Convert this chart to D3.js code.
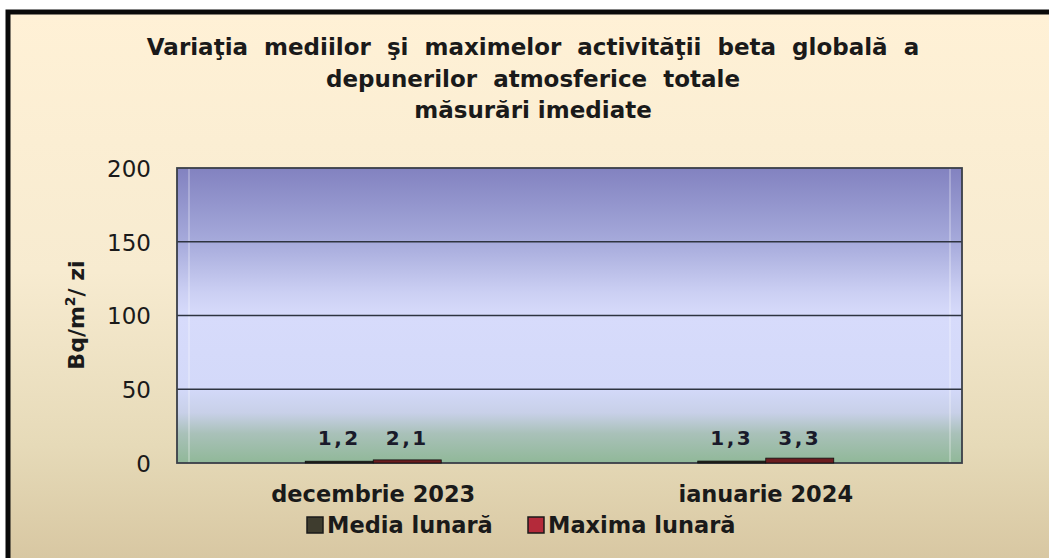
<!DOCTYPE html>
<html><head><meta charset="utf-8">
<script src="https://cdn.jsdelivr.net/npm/d3@7/dist/d3.min.js"></script>
<style>html,body{margin:0;padding:0;background:#fff;overflow:hidden}</style>
</head><body>
<script>
const categories = ["decembrie 2023", "ianuarie 2024"];
const seriesNames = ["Media lunară", "Maxima lunară"];
const mediaValues = [1.2, 1.3];
const maximaValues = [2.1, 3.3];
const yTicks = [0, 50, 100, 150, 200];
const titleLines = ["Variaţia  mediilor  şi  maximelor  activităţii  beta  globală  a", "depunerilor  atmosferice  totale", "măsurări imediate"];

const W = 1049, H = 558;
const svg = d3.select("body").append("svg").attr("width", W).attr("height", H);
const defs = svg.append("defs");

const bg = defs.append("linearGradient").attr("id", "bg").attr("x1", 0).attr("y1", 0).attr("x2", 0).attr("y2", 1);
[[0, "#fff1d6"], [0.45, "#f7ebd0"], [0.75, "#e6dab8"], [1, "#d4c29c"]].forEach(s => bg.append("stop").attr("offset", s[0]).attr("stop-color", s[1]));

const pg = defs.append("linearGradient").attr("id", "pg").attr("x1", 0).attr("y1", 0).attr("x2", 0).attr("y2", 1);
[[0, "#8282c0"], [0.25, "#a6aadb"], [0.42, "#cbcff3"], [0.5, "#d7dbfb"], [0.75, "#d3d9f9"], [0.83, "#c8d0e8"], [0.9, "#a9c1b9"], [1, "#90b898"]].forEach(s => pg.append("stop").attr("offset", s[0]).attr("stop-color", s[1]));

// frame
svg.append("rect").attr("x", 0).attr("y", 0).attr("width", W).attr("height", H).attr("fill", "#fff");
svg.append("rect").attr("x", 8).attr("y", 12).attr("width", W + 20).attr("height", H + 20)
  .attr("fill", "url(#bg)").attr("stroke", "#0a0a0a").attr("stroke-width", 5);

// title
const title = svg.append("text").attr("text-anchor", "middle")
  .attr("font-family", "DejaVu Sans, Verdana, sans-serif").attr("font-weight", "bold")
  .attr("font-size", 23).attr("fill", "#1a1a1a").style("white-space", "pre");
titleLines.forEach((t, i) => title.append("tspan").attr("x", 533).attr("y", 55 + i * 31.5).text(t));

const plot = {left: 177, right: 962, top: 168, bottom: 463};
const y = d3.scaleLinear().domain([0, 200]).range([plot.bottom, plot.top]);
const x0 = d3.scaleBand().domain(categories).range([plot.left, plot.right]).padding(0);
const groupW = 136;
const x1 = d3.scaleBand().domain(seriesNames).range([0, groupW]).padding(0);

svg.append("rect").attr("x", plot.left).attr("y", plot.top)
  .attr("width", plot.right - plot.left).attr("height", plot.bottom - plot.top).attr("fill", "url(#pg)");
// faint wall edges
[plot.left + 12, plot.right - 12].forEach(xx => svg.append("line").attr("x1", xx).attr("x2", xx)
  .attr("y1", plot.top).attr("y2", plot.bottom).attr("stroke", "#ffffff").attr("stroke-opacity", 0.35).attr("stroke-width", 1.5));

// gridlines
svg.append("g").selectAll("line").data(yTicks.filter(t => t > 0 && t < 200)).join("line")
  .attr("x1", plot.left).attr("x2", plot.right).attr("y1", d => y(d)).attr("y2", d => y(d))
  .attr("stroke", "#2e3440").attr("stroke-width", 1.6);

svg.append("rect").attr("x", plot.left).attr("y", plot.top)
  .attr("width", plot.right - plot.left).attr("height", plot.bottom - plot.top)
  .attr("fill", "none").attr("stroke", "#3a3f48").attr("stroke-width", 1.8);

// y axis
const yAxis = d3.axisLeft(y).tickValues(yTicks).tickSize(0).tickPadding(0);
const ya = svg.append("g").attr("transform", `translate(151,0)`).call(yAxis);
ya.select(".domain").remove();
ya.selectAll("text").attr("font-family", "DejaVu Sans, Verdana, sans-serif").attr("font-size", 23)
  .attr("fill", "#1a1a1a").attr("dy", "0.36em");

// x axis labels
const xAxis = d3.axisBottom(x0).tickSize(0).tickPadding(0);
const xa = svg.append("g").attr("transform", `translate(0,${plot.bottom})`).call(xAxis);
xa.select(".domain").remove();
xa.selectAll("text").attr("font-family", "DejaVu Sans, Verdana, sans-serif").attr("font-weight", "bold")
  .attr("font-size", 22.5).attr("fill", "#1a1a1a").attr("y", 39).attr("dy", 0);

// y axis title
const yt = svg.append("text").attr("transform", "translate(84,315) rotate(-90)").attr("text-anchor", "middle")
  .attr("font-family", "DejaVu Sans, Verdana, sans-serif").attr("font-weight", "bold").attr("font-size", 22).attr("fill", "#1a1a1a");
yt.append("tspan").text("Bq/m");
yt.append("tspan").attr("font-size", 14).attr("dy", -9).text("2");
yt.append("tspan").attr("dy", 9).text("/ zi");

// bars
const colors = {"Media lunară": "#23231b", "Maxima lunară": "#6b1d1f"};
const legendColors = {"Media lunară": "#3e3c2e", "Maxima lunară": "#b42a3a"};
const rows = categories.map((c, i) => ({cat: c, vals: [{s: seriesNames[0], v: mediaValues[i]}, {s: seriesNames[1], v: maximaValues[i]}]}));
const fmt = v => d3.format(".1f")(v).replace(".", ",");
const g = svg.append("g").selectAll("g").data(rows).join("g")
  .attr("transform", d => `translate(${x0(d.cat) + x0.bandwidth() / 2 - groupW / 2},0)`);
g.selectAll("rect").data(d => d.vals).join("rect")
  .attr("x", d => x1(d.s)).attr("width", x1.bandwidth())
  .attr("y", d => y(d.v)).attr("height", d => y(0) - y(d.v))
  .attr("fill", d => colors[d.s]).attr("stroke", "#111").attr("stroke-width", 0.8);
g.selectAll("text").data(d => d.vals).join("text")
  .attr("x", d => x1(d.s) + x1.bandwidth() / 2).attr("y", 445).attr("text-anchor", "middle")
  .attr("font-family", "DejaVu Sans, Verdana, sans-serif").attr("font-weight", "bold").attr("font-size", 20)
  .attr("letter-spacing", 2.5).attr("fill", "#1a1a2a").text(d => fmt(d.v));

// legend
const legendPos = [307, 528];
const lg = svg.append("g").selectAll("g").data(seriesNames).join("g")
  .attr("transform", (d, i) => `translate(${legendPos[i]},517)`);
lg.append("rect").attr("width", 16).attr("height", 16).attr("fill", d => legendColors[d]).attr("stroke", "#1a1a1a").attr("stroke-width", 1.5);
lg.append("text").attr("x", 20).attr("y", 16).attr("font-family", "DejaVu Sans, Verdana, sans-serif").attr("font-weight", "bold")
  .attr("font-size", 22.5).attr("fill", "#1a1a1a").text(d => d);
</script>
</body></html>
